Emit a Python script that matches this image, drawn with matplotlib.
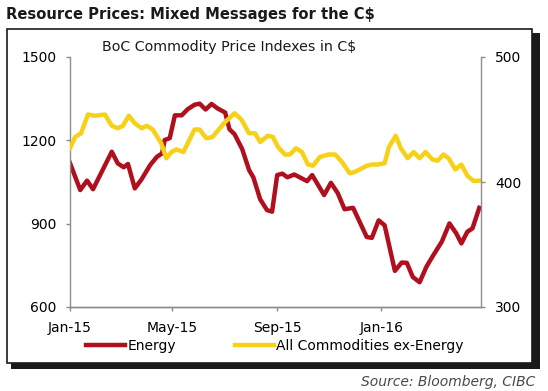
import matplotlib
matplotlib.use("Agg")
import matplotlib.pyplot as plt
import matplotlib.dates as mdates
from matplotlib.patches import Rectangle
import pandas as pd

# Energy index (left axis)
energy_dates = ["2015-01-01", "2015-01-13", "2015-01-21", "2015-01-28", "2015-02-19",
                "2015-02-26", "2015-03-05", "2015-03-10", "2015-03-18", "2015-03-26",
                "2015-04-05", "2015-04-13", "2015-04-19", "2015-04-22", "2015-04-28",
                "2015-05-04", "2015-05-12", "2015-05-19", "2015-05-27", "2015-06-02",
                "2015-06-09", "2015-06-16", "2015-06-23", "2015-07-02", "2015-07-07",
                "2015-07-13", "2015-07-22", "2015-07-30", "2015-08-04", "2015-08-12",
                "2015-08-20", "2015-08-26", "2015-09-01", "2015-09-07", "2015-09-13",
                "2015-09-21", "2015-09-28", "2015-10-06", "2015-10-12", "2015-10-26",
                "2015-11-03", "2015-11-11", "2015-11-19", "2015-11-29", "2015-12-15",
                "2015-12-21", "2015-12-29", "2016-01-05", "2016-01-17", "2016-01-25",
                "2016-01-31", "2016-02-07", "2016-02-15", "2016-02-23", "2016-03-01",
                "2016-03-12", "2016-03-21", "2016-03-29", "2016-04-04", "2016-04-11",
                "2016-04-17", "2016-04-25"]
energy = [1118, 1021, 1055, 1024, 1159,
          1117, 1103, 1115, 1027, 1060,
          1111, 1141, 1153, 1201, 1208,
          1290, 1290, 1312, 1328, 1332,
          1311, 1331, 1315, 1300, 1240,
          1222, 1168, 1093, 1067, 988,
          949, 943, 1075, 1080, 1067,
          1077, 1066, 1053, 1075, 1003,
          1047, 1010, 952, 957, 852,
          849, 912, 894, 730, 760,
          759, 708, 689, 745, 781,
          835, 901, 865, 829, 871,
          883, 957]

# All commodities ex-energy (right axis)
exen_dates = ["2015-01-01", "2015-01-07", "2015-01-14", "2015-01-22", "2015-01-30",
              "2015-02-11", "2015-02-19", "2015-02-26", "2015-03-04", "2015-03-11",
              "2015-03-18", "2015-03-26", "2015-04-01", "2015-04-08", "2015-04-18",
              "2015-04-24", "2015-04-30", "2015-05-06", "2015-05-14", "2015-05-27",
              "2015-06-02", "2015-06-10", "2015-06-17", "2015-07-02", "2015-07-13",
              "2015-07-21", "2015-07-30", "2015-08-06", "2015-08-12", "2015-08-21",
              "2015-08-27", "2015-09-02", "2015-09-10", "2015-09-16", "2015-09-23",
              "2015-09-30", "2015-10-07", "2015-10-13", "2015-10-21", "2015-10-31",
              "2015-11-08", "2015-11-16", "2015-11-25", "2015-12-01", "2015-12-15",
              "2015-12-21", "2015-12-28", "2016-01-05", "2016-01-10", "2016-01-18",
              "2016-01-24", "2016-02-01", "2016-02-08", "2016-02-15", "2016-02-22",
              "2016-03-01", "2016-03-07", "2016-03-14", "2016-03-20", "2016-03-28",
              "2016-04-04", "2016-04-11", "2016-04-18", "2016-04-25"]
ex_energy = [427, 436, 439, 454, 453,
             454, 445, 443, 445, 453,
             447, 443, 445, 442, 431,
             419, 424, 426, 424, 442,
             442, 435, 436, 448, 455,
             450, 439, 439, 432, 437,
             436, 428, 422, 422, 427,
             424, 414, 413, 420, 422,
             422, 416, 407, 408, 413,
             414, 414, 415, 428, 437,
             427, 419, 424, 419, 424,
             418, 417, 422, 419, 410,
             414, 405, 401, 401]

RED = "#B0101E"
YELLOW = "#F7D117"

fig = plt.figure(figsize=(5.48, 3.91), dpi=100)
W, H = 548, 391

# framed box with drop shadow
fig.patches.append(Rectangle((11 / W, 1 - 369 / H), 529 / W, 336 / H,
                             transform=fig.transFigure, facecolor="#1a1a1a",
                             edgecolor="none", zorder=0))
fig.patches.append(Rectangle((7 / W, 1 - 363 / H), 525 / W, 334 / H,
                             transform=fig.transFigure, facecolor="white",
                             edgecolor="#1a1a1a", linewidth=1.2, zorder=1))

fig.text(6 / W, 1 - 15 / H, "Resource Prices: Mixed Messages for the C$",
         fontsize=10.6, fontweight="bold", color="#1a1a1a", va="center", ha="left")

ax = fig.add_axes([70 / W, 1 - 307 / H, 411 / W, 250 / H])
ax.set_zorder(2)
ax.patch.set_visible(False)
ax2 = ax.twinx()

ed = pd.to_datetime(energy_dates)
xd = pd.to_datetime(exen_dates)
l1, = ax.plot(ed, energy, color=RED, lw=3.2, solid_joinstyle="round", label="Energy")
l2, = ax2.plot(xd, ex_energy, color=YELLOW, lw=3.2, solid_joinstyle="round",
               label="All Commodities ex-Energy")

ax.set_xlim(pd.Timestamp("2015-01-01"), pd.Timestamp("2016-04-27"))
ax.set_ylim(600, 1500)
ax.set_yticks([600, 900, 1200, 1500])
ax2.set_ylim(300, 500)
ax2.set_yticks([300, 400, 500])

ax.set_xticks(pd.to_datetime(["2015-01-01", "2015-05-01", "2015-09-01", "2016-01-01"]))
ax.xaxis.set_major_formatter(mdates.DateFormatter("%b-%y"))

for a in (ax, ax2):
    for s in a.spines.values():
        s.set_color("#8c8c8c")
        s.set_linewidth(1.0)
    a.spines["top"].set_visible(False)
    a.tick_params(colors="#8c8c8c", labelcolor="black", labelsize=10, length=3, width=1)
    a.tick_params(axis="y", pad=7)
ax.spines["right"].set_visible(False)
ax2.spines["left"].set_visible(False)
ax.tick_params(axis="x", pad=7)

fig.text(102 / W, 1 - 47 / H, "BoC Commodity Price Indexes in C$", fontsize=10.3,
         color="#1a1a1a", va="center", ha="left")

fig.legend(handles=[l1, l2], loc="center", bbox_to_anchor=(275 / W, 1 - 346 / H),
           ncol=2, frameon=False, fontsize=10, handlelength=2.8, handletextpad=0.2,
           columnspacing=4.2)

fig.text(535 / W, 1 - 382 / H, "Source: Bloomberg, CIBC", fontsize=10,
         style="italic", color="#4a4a4a", va="center", ha="right")

fig.savefig("out.png", dpi=100)
